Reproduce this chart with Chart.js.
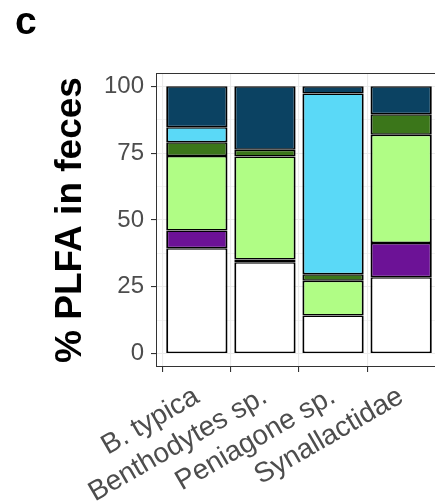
<!DOCTYPE html>
<html>
<head>
<meta charset="utf-8">
<script src="https://cdn.jsdelivr.net/npm/chart.js"></script>
<style>
  html, body { margin: 0; padding: 0; background: #fff; overflow: hidden; }
  #wrap { position: relative; width: 442px; height: 502px; }
  #panelTag { position: absolute; left: 15px; top: 1px; font: bold 39px "Liberation Sans", Arial, sans-serif; line-height: 1; color: #000; }
</style>
</head>
<body>
<div id="wrap">
  <canvas id="myChart"></canvas>
  <div id="panelTag">c</div>
</div>
<script>
const categories = ['B. typica', 'Benthodytes sp.', 'Peniagone sp.', 'Synallactidae']

// stacked from the bottom up, % of total PLFA
const whiteVals = [39.4, 34.2, 14.3, 28.6]
const purpleVals = [6.7, 1.0, 0, 12.8]
const lightGreenVals = [27.8, 38.6, 13.0, 40.5]
const darkGreenVals = [5.2, 2.5, 2.4, 7.7]
const cyanVals = [5.6, 0, 67.6, 0]
const navyVals = [15.3, 23.7, 2.7, 10.4]

const yTicks = [0, 25, 50, 75, 100]

const fills = ['#ffffff', '#6c1296', '#b0fd85', '#3b761a', '#5ad9f7', '#0b4262']
const seriesList = [whiteVals, purpleVals, lightGreenVals, darkGreenVals, cyanVals, navyVals]

const fam = '"Liberation Sans", Arial, sans-serif'

const datasets = seriesList.map((vals, k) => ({
  label: 'group ' + (k + 1),
  data: vals.map((v, i) => ({ x: i, y: v })),
  backgroundColor: fills[k],
  borderColor: '#000',
  borderWidth: { top: 1.5, bottom: 1.5, left: 2, right: 2 },
  borderSkipped: false,
  barPercentage: 0.9,
  categoryPercentage: 1
}))

const panelBorder = {
  id: 'panelBorder',
  afterDraw(chart) {
    const { ctx, chartArea: a } = chart
    ctx.save()
    ctx.strokeStyle = '#333'
    ctx.lineWidth = 1
    ctx.strokeRect(a.left + 0.5, a.top + 0.5, a.right - a.left, a.bottom - a.top - 1)
    ctx.restore()
  }
}

const ctx = document.getElementById('myChart')

new Chart(ctx, {
  type: 'bar',
  data: { datasets },
  plugins: [panelBorder],
  options: {
    responsive: true,
    maintainAspectRatio: false,
    animation: false,
    layout: { padding: { left: 49, top: 73, right: 0, bottom: 0 } },
    plugins: { legend: { display: false }, tooltip: { enabled: false } },
    scales: {
      x: {
        type: 'linear',
        stacked: true,
        min: -0.6,
        max: 3.6,
        offset: false,
        afterBuildTicks: s => { s.ticks = categories.map((c, i) => ({ value: i })) },
        afterFit: s => { s.height = 135 },
        ticks: {
          autoSkip: false,
          maxRotation: 30,
          minRotation: 30,
          padding: 8,
          color: '#4d4d4d',
          font: { family: fam, size: 28 },
          callback: v => categories[v]
        },
        grid: { color: '#ebebeb', lineWidth: 1.1, tickColor: '#333', tickLength: 5 },
        border: { display: false }
      },
      y: {
        stacked: true,
        min: -5,
        max: 105,
        afterBuildTicks: s => {
          const t = []
          for (let v = 0; v <= 100; v += 12.5) t.push({ value: v })
          s.ticks = t
        },
        afterFit: s => { s.width = 107 },
        ticks: {
          padding: 7,
          color: '#4d4d4d',
          font: { family: fam, size: 24 },
          callback: v => (yTicks.includes(v) ? String(v) : '')
        },
        grid: {
          color: '#ebebeb',
          lineWidth: c => (yTicks.includes(c.tick.value) ? 1.1 : 0.6),
          tickColor: c => (yTicks.includes(c.tick.value) ? '#333' : 'rgba(0,0,0,0)'),
          tickLength: 5
        },
        border: { display: false },
        title: {
          display: true,
          text: '% PLFA in feces',
          color: '#000',
          font: { family: fam, size: 37, weight: 'bold' },
          padding: { top: 0, bottom: 0 }
        }
      }
    }
  }
})
</script>
</body>
</html>
